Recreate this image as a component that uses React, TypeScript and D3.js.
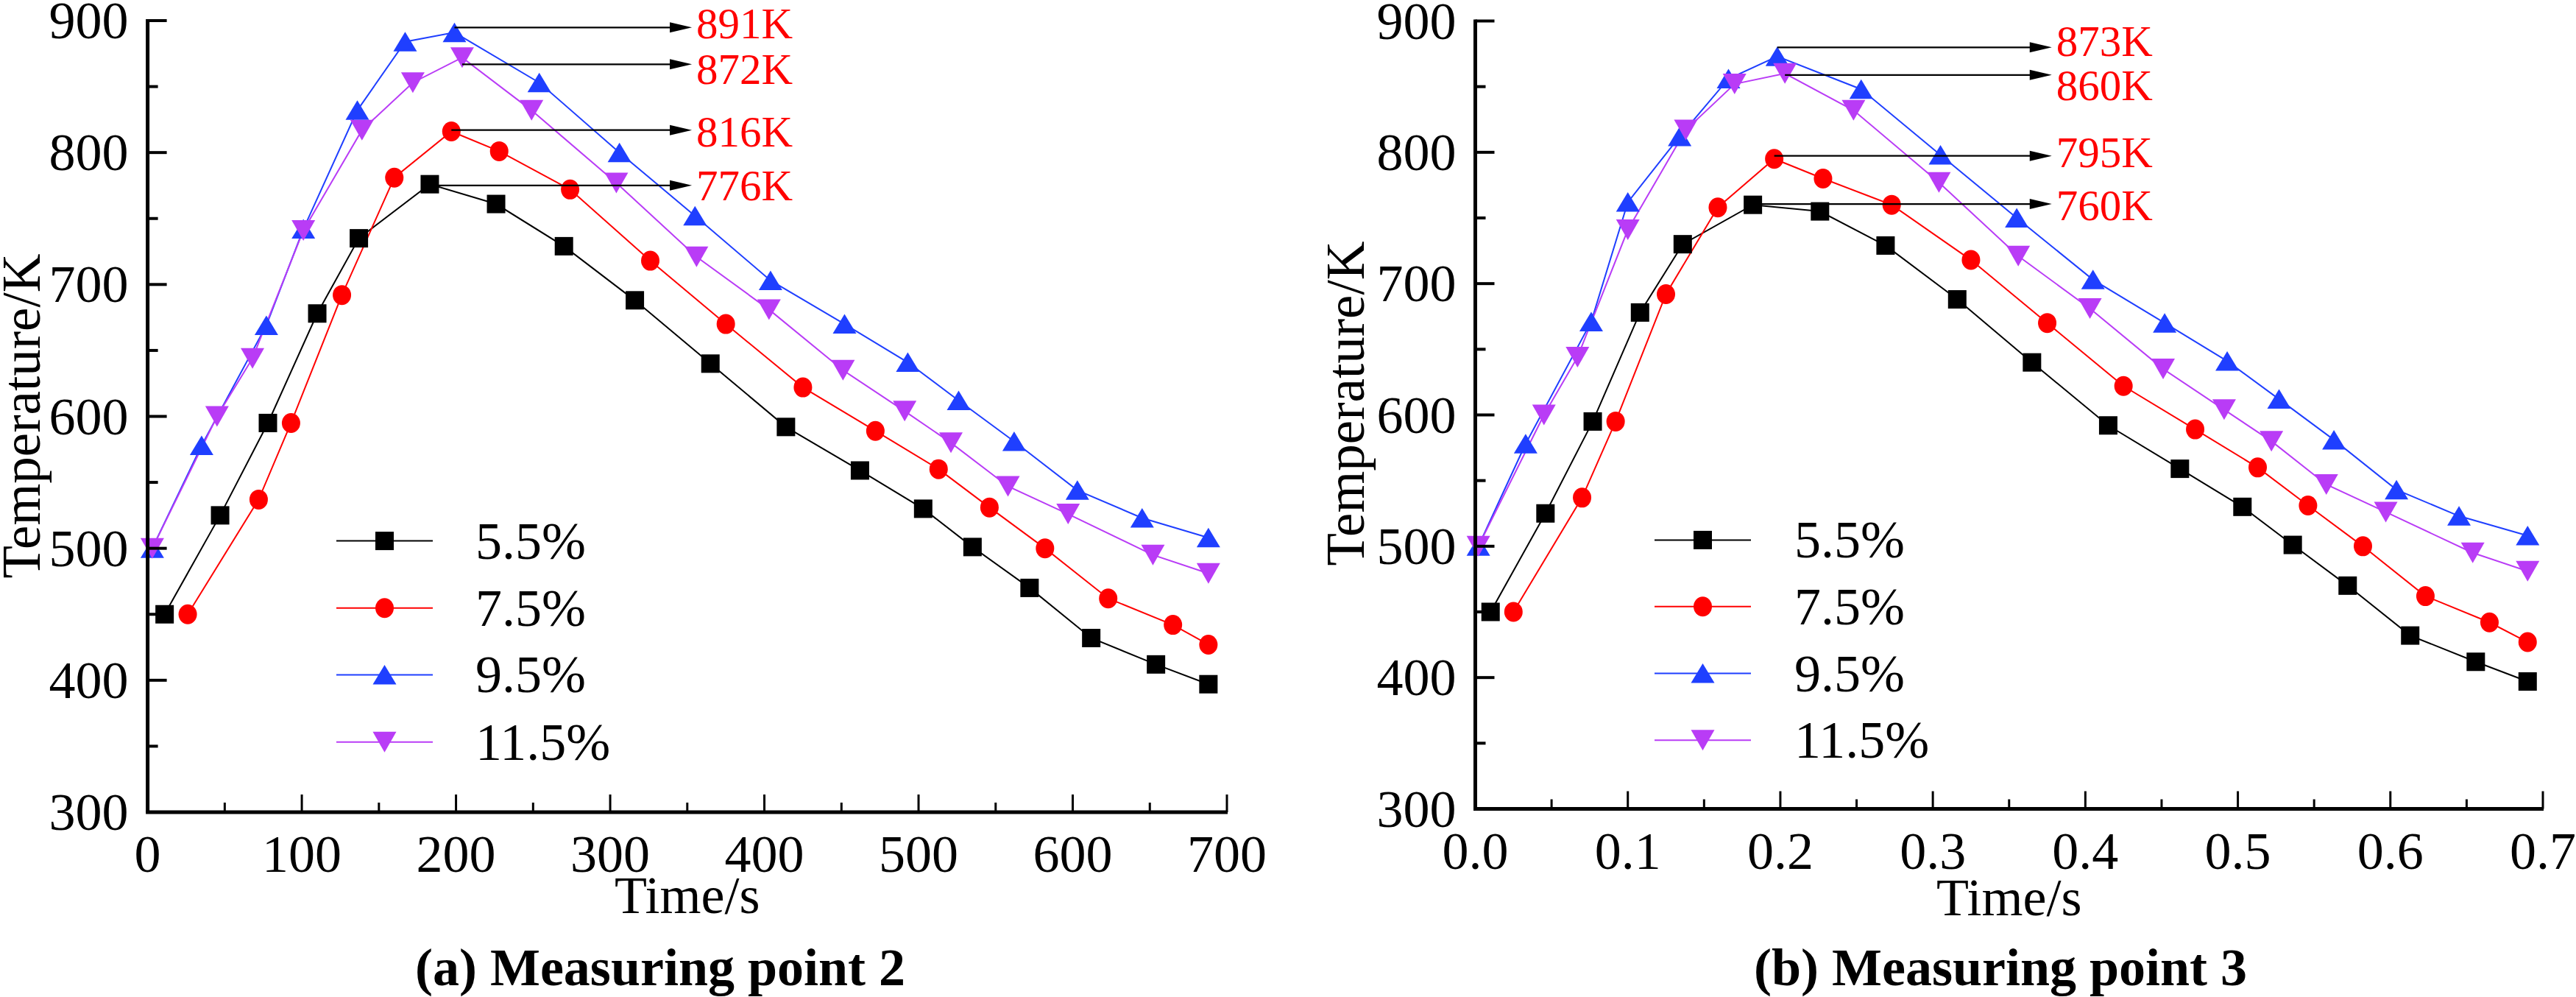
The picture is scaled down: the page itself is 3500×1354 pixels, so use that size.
import React from 'react';
import * as d3 from 'd3';

// ---------- DATA ----------
const seriesNames = ['5.5%', '7.5%', '9.5%', '11.5%'];
const seriesColors = ['#000000', '#ff0000', '#1f3fff', '#b93cf6'];
const seriesShapes = ['square', 'circle', 'triUp', 'triDown'];

// (a) Measuring point 2  — time in s
const p2Time55 = [11, 47, 78, 110, 137, 183, 226, 270, 316, 365, 414, 462, 503, 535, 572, 612, 654, 688];
const p2Temp55 = [450, 525, 595, 678, 735, 776, 761, 729, 688, 640, 592, 559, 530, 501, 470, 432, 412, 397];
const p2Time75 = [26, 72, 93, 126, 160, 197, 228, 274, 326, 375, 425, 472, 513, 546, 582, 623, 665, 688];
const p2Temp75 = [450, 537, 595, 692, 781, 816, 801, 772, 718, 670, 622, 589, 560, 531, 500, 462, 442, 427];
const p2Time95 = [3, 35, 77, 101, 136, 167, 199, 254, 306, 355, 404, 452, 493, 526, 562, 603, 645, 688];
const p2Temp95 = [500, 578, 669, 742, 832, 884, 891, 853, 800, 752, 703, 670, 641, 612, 581, 544, 523, 508];
const p2Time115 = [3, 45, 68, 101, 139, 172, 204, 249, 304, 356, 403, 451, 491, 521, 558, 597, 652, 688];
const p2Temp115 = [500, 600, 644, 741, 817, 853, 872, 832, 777, 721, 681, 635, 604, 580, 547, 526, 495, 481];
// peak annotations (series index, peak value, arrow level, label level — all in K)
const p2PeakSeries = [2, 3, 1, 0];
const p2PeakValues = [891, 872, 816, 776];
const p2ArrowLevels = [894.8, 866.9, 817, 775.1];
const p2LabelLevels = [897.7, 863.3, 815.8, 774.7];
const p2ArrowEnd = 353;

// (b) Measuring point 3
const p3Time55 = [0.01, 0.046, 0.077, 0.108, 0.136, 0.182, 0.226, 0.269, 0.316, 0.365, 0.415, 0.462, 0.503, 0.536, 0.572, 0.613, 0.656, 0.69];
const p3Temp55 = [450, 525, 595, 678, 730, 760, 755, 729, 688, 640, 592, 559, 530, 501, 470, 432, 412, 397];
const p3Time75 = [0.025, 0.07, 0.092, 0.125, 0.159, 0.196, 0.228, 0.273, 0.325, 0.375, 0.425, 0.472, 0.513, 0.546, 0.582, 0.623, 0.665, 0.69];
const p3Temp75 = [450, 537, 595, 692, 758, 795, 780, 760, 718, 670, 622, 589, 560, 531, 500, 462, 442, 427];
const p3Time95 = [0.002, 0.033, 0.076, 0.1, 0.134, 0.166, 0.198, 0.253, 0.305, 0.355, 0.405, 0.452, 0.493, 0.527, 0.563, 0.604, 0.645, 0.69];
const p3Temp95 = [500, 578, 671, 762, 812, 856, 873, 848, 798, 750, 703, 670, 641, 612, 581, 543, 523, 508];
const p3Time115 = [0.002, 0.045, 0.067, 0.1, 0.138, 0.17, 0.203, 0.248, 0.304, 0.356, 0.403, 0.451, 0.491, 0.522, 0.558, 0.597, 0.654, 0.69];
const p3Temp115 = [500, 600, 644, 741, 817, 852, 860, 832, 777, 721, 681, 635, 604, 580, 547, 526, 495, 481];
const p3PeakSeries = [2, 3, 1, 0];
const p3PeakValues = [873, 860, 795, 760];
const p3ArrowLevels = [879.9, 858.9, 797.3, 760.6];
const p3LabelLevels = [884.4, 851, 800.1, 759.6];
const p3ArrowEnd = 0.378;

const yTicks = [300, 400, 500, 600, 700, 800, 900];
const yMinor = [350, 450, 550, 650, 750, 850];
const p2XTicks = [0, 100, 200, 300, 400, 500, 600, 700];
const p2XMinor = [50, 150, 250, 350, 450, 550, 650];
const p3XTicks = [0, 0.1, 0.2, 0.3, 0.4, 0.5, 0.6, 0.7];
const p3XMinor = [0.05, 0.15, 0.25, 0.35, 0.45, 0.55, 0.65];

const FONT = '"Liberation Serif", "Times New Roman", serif';

function Marker({ shape, x, y, color }: any) {
  if (shape === 'square') return <rect x={x - 12.5} y={y - 12.5} width={25} height={25} fill={color} />;
  if (shape === 'circle') return <ellipse cx={x} cy={y} rx={12.5} ry={13.5} fill={color} />;
  if (shape === 'triUp')
    return <path d={`M${x},${y - 13.5}L${x + 16},${y + 13}L${x - 16},${y + 13}Z`} fill={color} />;
  return <path d={`M${x - 16},${y - 14}L${x + 16},${y - 14}L${x},${y + 14}Z`} fill={color} />;
}

function Panel(props: any) {
  const {
    xRange, yRange, xDomain, xTicks, xMinor, fmt, times, temps,
    peakSeries, peakValues, arrowLevels, labelLevels, arrowEnd, legend, ylabel, xlabelY, title,
  } = props;
  const x = d3.scaleLinear().domain(xDomain).range(xRange);
  const y = d3.scaleLinear().domain([300, 900]).range(yRange);
  const line = d3.line<[number, number]>().x((d) => x(d[0])).y((d) => y(d[1]));
  const x0 = xRange[0];
  const yb = yRange[0];
  return (
    <g>
      {/* series lines */}
      {times.map((ts: number[], i: number) => (
        <path key={'l' + i} d={line(ts.map((t, j) => [t, temps[i][j]]) as any) || ''}
          fill="none" stroke={seriesColors[i]} strokeWidth={2} />
      ))}
      {/* markers */}
      {times.map((ts: number[], i: number) =>
        ts.map((t, j) => (
          <Marker key={'m' + i + '_' + j} shape={seriesShapes[i]} x={x(t)} y={y(temps[i][j])} color={seriesColors[i]} />
        ))
      )}
      {/* annotations */}
      {peakSeries.map((si: number, k: number) => {
        const v = peakValues[k];
        const idx = temps[si].indexOf(v);
        const sx = x(times[si][idx]);
        const ay = y(arrowLevels[k]);
        const ty = y(labelLevels[k]);
        const ex = x(arrowEnd);
        return (
          <g key={'a' + k}>
            <line x1={sx} y1={ay} x2={ex - 26} y2={ay} stroke="#000" strokeWidth={2.2} />
            <path d={`M${ex},${ay}L${ex - 30},${ay - 7}L${ex - 30},${ay + 7}Z`} fill="#000" />
            <text x={ex + 6} y={ty} dominantBaseline="central" fontSize={59} fill="#ff0000" fontFamily={FONT}>
              {v}K
            </text>
          </g>
        );
      })}
      {/* axes */}
      <line x1={x0} y1={y(300)} x2={x0} y2={y(900) - 2} stroke="#000" strokeWidth={5} />
      <line x1={x0 - 2.5} y1={yb} x2={xRange[1] + 1} y2={yb} stroke="#000" strokeWidth={5} />
      {yTicks.map((t) => (
        <g key={'yt' + t}>
          <line x1={x0} x2={x0 + 26} y1={y(t)} y2={y(t)} stroke="#000" strokeWidth={4} />
          <text x={x0 - 26} y={y(t)} textAnchor="end" dominantBaseline="central" fontSize={72} fontFamily={FONT}>{t}</text>
        </g>
      ))}
      {yMinor.map((t) => (
        <line key={'ym' + t} x1={x0} x2={x0 + 14} y1={y(t)} y2={y(t)} stroke="#000" strokeWidth={4} />
      ))}
      {xTicks.map((t: number) => (
        <g key={'xt' + t}>
          <line x1={x(t)} x2={x(t)} y1={yb} y2={yb - 24} stroke="#000" strokeWidth={3} />
          <text x={x(t)} y={yb + 81} textAnchor="middle" fontSize={72} fontFamily={FONT}>{fmt(t)}</text>
        </g>
      ))}
      {xMinor.map((t: number) => (
        <line key={'xm' + t} x1={x(t)} x2={x(t)} y1={yb} y2={yb - 13} stroke="#000" strokeWidth={3} />
      ))}
      <text x={(xRange[0] + xRange[1]) / 2} y={xlabelY} textAnchor="middle" fontSize={72} fontFamily={FONT}>Time/s</text>
      <text transform={`translate(${ylabel.x},${ylabel.y}) rotate(-90)`} textAnchor="middle" fontSize={73} fontFamily={FONT}>
        Temperature/K
      </text>
      {/* legend */}
      {seriesNames.map((n, i) => {
        const ly = legend.rows[i];
        return (
          <g key={'lg' + i}>
            <line x1={legend.x1} x2={legend.x2} y1={ly} y2={ly} stroke={seriesColors[i]} strokeWidth={2} />
            <Marker shape={seriesShapes[i]} x={(legend.x1 + legend.x2) / 2} y={ly} color={seriesColors[i]} />
            <text x={legend.tx} y={ly} dominantBaseline="central" fontSize={72} fontFamily={FONT}>{n}</text>
          </g>
        );
      })}
      <text x={title.x} y={title.y} textAnchor="middle" fontSize={72} fontWeight="bold" fontFamily={FONT}>{title.text}</text>
    </g>
  );
}

export default function App() {
  return (
    <svg width={3500} height={1354} style={{ position: 'absolute', left: 0, top: 0, background: '#fff' }}
      xmlns="http://www.w3.org/2000/svg">
      <rect width={3500} height={1354} fill="#fff" />
      <Panel
        xRange={[200.6, 1667]} yRange={[1103, 28]} xDomain={[0, 700]}
        xTicks={p2XTicks} xMinor={p2XMinor} fmt={(d: number) => String(d)}
        times={[p2Time55, p2Time75, p2Time95, p2Time115]}
        temps={[p2Temp55, p2Temp75, p2Temp95, p2Temp115]}
        peakSeries={p2PeakSeries} peakValues={p2PeakValues}
        arrowLevels={p2ArrowLevels} labelLevels={p2LabelLevels} arrowEnd={p2ArrowEnd}
        legend={{ x1: 457, x2: 588, tx: 646, rows: [734.6, 825.7, 916.4, 1007.8] }}
        ylabel={{ x: 54, y: 565 }} xlabelY={1240}
        title={{ x: 897, y: 1338, text: '(a) Measuring point 2' }}
      />
      <Panel
        xRange={[2004.5, 3455]} yRange={[1098.5, 28.5]} xDomain={[0, 0.7]}
        xTicks={p3XTicks} xMinor={p3XMinor} fmt={d3.format('.1f')}
        times={[p3Time55, p3Time75, p3Time95, p3Time115]}
        temps={[p3Temp55, p3Temp75, p3Temp95, p3Temp115]}
        peakSeries={p3PeakSeries} peakValues={p3PeakValues}
        arrowLevels={p3ArrowLevels} labelLevels={p3LabelLevels} arrowEnd={p3ArrowEnd}
        legend={{ x1: 2248, x2: 2379, tx: 2438, rows: [733.4, 823.8, 914.5, 1005.2] }}
        ylabel={{ x: 1853, y: 548 }} xlabelY={1243}
        title={{ x: 2718, y: 1338, text: '(b) Measuring point 3' }}
      />
    </svg>
  );
}
